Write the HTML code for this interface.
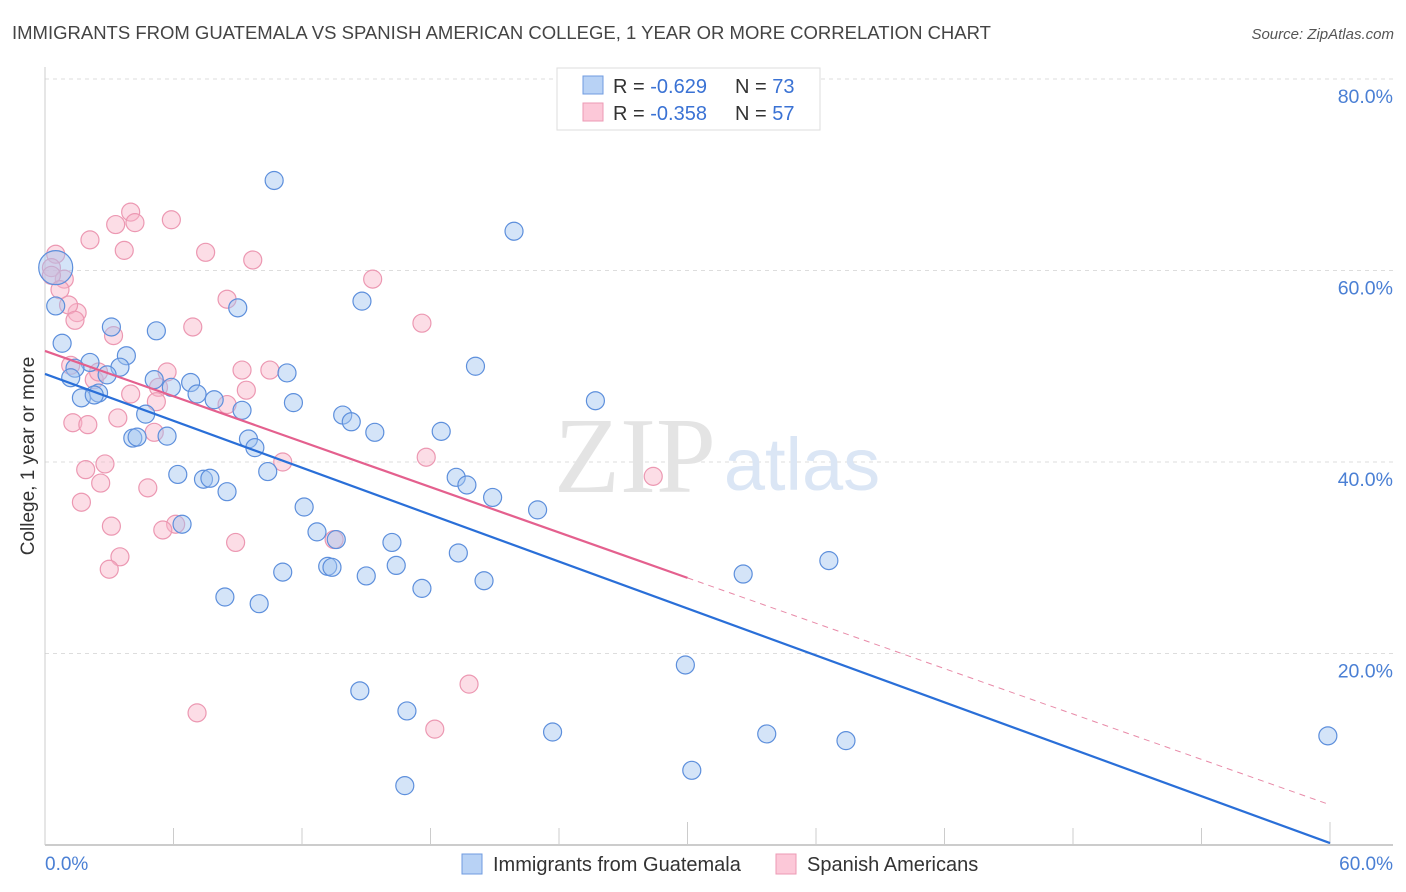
<!DOCTYPE html>
<html><head><meta charset="utf-8"><style>
body{margin:0;background:#fff;font-family:"Liberation Sans",sans-serif}
#c{position:absolute;left:0;top:0}
</style></head><body>
<svg id="c" width="1406" height="892" xmlns="http://www.w3.org/2000/svg">
<text x="12" y="39" font-size="18.5" fill="#444">IMMIGRANTS FROM GUATEMALA VS SPANISH AMERICAN COLLEGE, 1 YEAR OR MORE CORRELATION CHART</text>
<text x="1394" y="39" font-size="15" fill="#555" font-style="italic" text-anchor="end">Source: ZipAtlas.com</text>
<g id="grid"></g>
<text x="635" y="492" font-size="108" fill="#e4e4e4" font-family="Liberation Serif,serif" text-anchor="middle">ZIP</text>
<text x="802" y="490" font-size="74" fill="#dbe6f5" text-anchor="middle">atlas</text>
<g id="pts"></g>
<g id="lines"></g>
<text x="34" y="456" font-size="19" fill="#333" text-anchor="middle" transform="rotate(-90 34 456)">College, 1 year or more</text>
<g>
<rect x="557" y="68" width="263" height="62" fill="#fff" stroke="#ddd"/>
<rect x="583" y="76" width="20" height="18" fill="#b8d2f5" stroke="#6f9be0"/>
<rect x="583" y="103" width="20" height="18" fill="#fcc8d8" stroke="#ec9ab4"/>
<text x="613" y="93" font-size="20" fill="#333">R = <tspan fill="#3a72d4">-0.629</tspan></text>
<text x="735" y="93" font-size="20" fill="#333">N = <tspan fill="#3a72d4">73</tspan></text>
<text x="613" y="120" font-size="20" fill="#333">R = <tspan fill="#3a72d4">-0.358</tspan></text>
<text x="735" y="120" font-size="20" fill="#333">N = <tspan fill="#3a72d4">57</tspan></text>
</g>
<text x="45" y="870" font-size="19" fill="#4a7fd4">0.0%</text>
<text x="1393" y="870" font-size="19" fill="#4a7fd4" text-anchor="end">60.0%</text>
<g>
<rect x="462" y="854" width="20" height="20" fill="#b8d2f5" stroke="#6f9be0"/>
<text x="493" y="871" font-size="20" fill="#333">Immigrants from Guatemala</text>
<rect x="776" y="854" width="20" height="20" fill="#fcc8d8" stroke="#ec9ab4"/>
<text x="807" y="871" font-size="20" fill="#333">Spanish Americans</text>
</g>
</svg>
<script>
const yTicks=[20,40,60,80];
const blueX=[10.7,21.9,0.5,14.8,9.0,0.5,3.1,5.2,0.8,3.8,2.1,1.4,3.5,11.3,2.9,1.2,5.1,6.8,5.9,7.1,2.5,1.7,20.1,2.3,7.9,11.6,9.2,25.7,4.7,13.9,14.3,15.4,18.5,5.7,4.1,4.3,9.5,9.8,10.4,6.2,7.4,7.7,19.2,19.7,8.5,20.9,12.1,23.0,12.7,6.4,16.2,13.6,19.3,36.6,13.2,13.4,16.4,11.1,15.0,32.6,20.5,17.6,8.4,10.0,29.9,14.7,16.9,23.7,33.7,37.4,59.9,30.2,16.8];
const blueY=[69.4,64.1,60.3,56.8,56.1,56.3,54.1,53.7,52.4,51.1,50.4,49.8,49.9,49.3,49.1,48.8,48.6,48.3,47.8,47.1,47.2,46.7,50.0,47.0,46.5,46.2,45.4,46.4,45.0,44.9,44.2,43.1,43.2,42.7,42.5,42.6,42.4,41.5,39.0,38.7,38.2,38.3,38.4,37.6,36.9,36.3,35.3,35.0,32.7,33.5,31.6,31.9,30.5,29.7,29.1,29.0,29.2,28.5,28.1,28.3,27.6,26.8,25.9,25.2,18.8,16.1,14.0,11.8,11.6,10.9,11.4,7.8,6.2];
const pinkX=[0.5,0.3,0.9,0.3,2.1,3.3,4.0,4.2,5.9,3.7,7.5,9.7,15.3,8.5,0.7,1.5,1.1,1.4,3.2,6.9,17.6,1.2,2.3,2.5,5.7,9.2,10.5,5.3,9.4,4.0,8.5,5.2,3.4,1.3,2.0,5.1,11.1,17.8,28.4,2.8,1.9,2.6,4.8,1.7,6.1,5.5,3.1,8.9,13.5,3.5,3.0,19.8,7.1,18.2];
const pinkY=[61.7,60.3,59.1,59.5,63.2,64.8,66.1,65.0,65.3,62.1,61.9,61.1,59.1,57.0,58.0,55.6,56.4,54.8,53.2,54.1,54.5,50.1,48.6,49.4,49.4,49.6,49.6,47.8,47.5,47.1,46.0,46.3,44.6,44.1,43.9,43.1,40.0,40.5,38.5,39.8,39.2,37.8,37.3,35.8,33.5,32.9,33.3,31.6,31.9,30.1,28.8,16.8,13.8,12.1];
const blueTrend=[49.2,0.2];
const pinkTrend=[51.6,4.2];
const pinkSolidEnd=30;
const NS='http://www.w3.org/2000/svg';
const X=v=>45+v/60*1285, Y=v=>845-v/20*191.5;
function mk(t,a,p){const e=document.createElementNS(NS,t);for(const k in a)e.setAttribute(k,a[k]);document.getElementById(p).appendChild(e);return e;}
yTicks.forEach(t=>{
 const l=mk('line',{x1:45,x2:1393,y1:Y(t),y2:Y(t),stroke:'#ddd','stroke-dasharray':'4 4'},'grid');
 
 
 const tx=mk('text',{x:1393,y:Y(t)+24,'font-size':19.5,fill:'#4a7fd4','text-anchor':'end'},'grid');
 tx.textContent=t.toFixed(1)+'%';
 
 
});
const ax=mk('line',{x1:45,x2:1393,y1:845,y2:845,stroke:'#bbb','stroke-width':1.5},'grid');


const ay=mk('line',{x1:45,x2:45,y1:67,y2:845,stroke:'#ccc'},'grid');


for(let i=1;i<=10;i++){const tk=mk('line',{x1:X(i*6),x2:X(i*6),y1:i==5||i==10?822:828,y2:845,stroke:'#ccc'},'grid');
 
 }
pinkX.forEach((v,i)=>{const c=mk('circle',{cx:X(v),cy:Y(pinkY[i]),r:9,fill:'rgba(248,180,200,0.45)',stroke:'#ec98b2','stroke-width':1.2},'pts');
 
 });
blueX.forEach((v,i)=>{const c=mk('circle',{cx:X(v),cy:Y(blueY[i]),r:i==2?17:9,fill:'rgba(160,196,240,0.45)',stroke:'#5d8fdc','stroke-width':1.2},'pts');
 
 });
const pAt=x=>pinkTrend[0]+(pinkTrend[1]-pinkTrend[0])*x/60;
const bl=mk('line',{x1:X(0),y1:Y(blueTrend[0]),x2:X(60),y2:Y(blueTrend[1]),stroke:'#2a6fd8','stroke-width':2.2},'lines');


const pl=mk('line',{x1:X(0),y1:Y(pinkTrend[0]),x2:X(pinkSolidEnd),y2:Y(pAt(pinkSolidEnd)),stroke:'#e4608e','stroke-width':2.2},'lines');


const pd=mk('line',{x1:X(pinkSolidEnd),y1:Y(pAt(pinkSolidEnd)),x2:X(60),y2:Y(pinkTrend[1]),stroke:'#e88aa8','stroke-width':1,'stroke-dasharray':'6 5'},'lines');


</script>
</body></html>
